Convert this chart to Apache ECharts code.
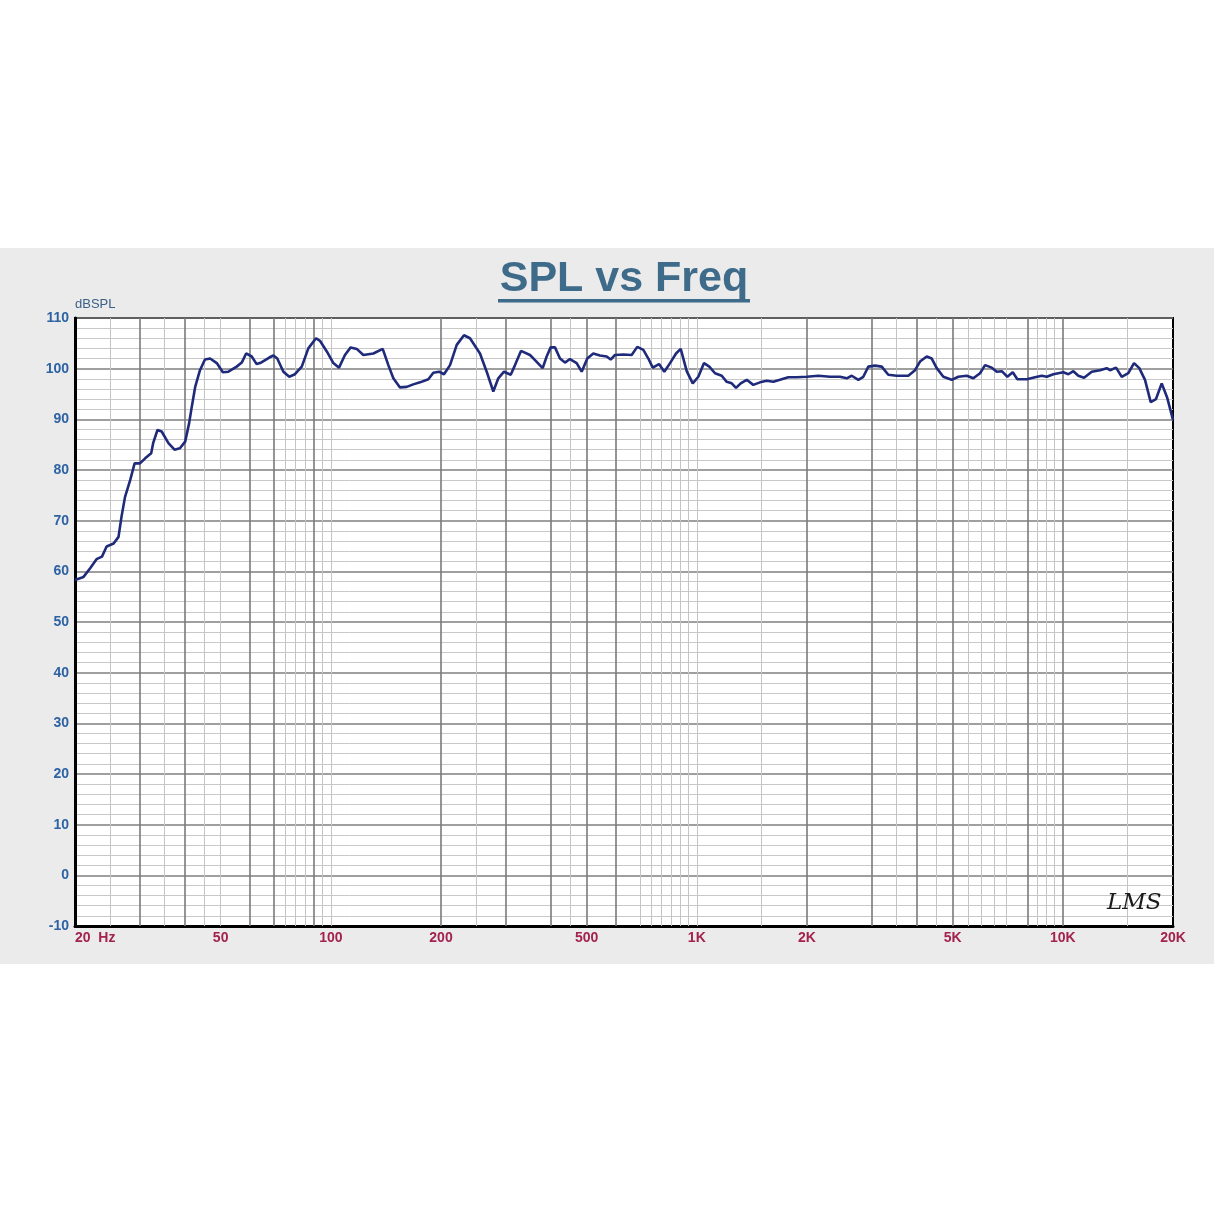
<!DOCTYPE html>
<html><head><meta charset="utf-8">
<script src="https://cdn.jsdelivr.net/npm/echarts@6/dist/echarts.min.js"></script>
<style>html,body{margin:0;padding:0;background:#fff}#c{width:1214px;height:1214px}</style>
</head><body><div id="c"></div>
<script>
const freqHz = [20,21.1,22.0,22.9,23.7,24.4,25.5,26.3,26.8,27.4,
28.3,29.1,30.1,31.1,32.3,32.7,33.6,34.5,36.0,37.4,
38.7,40.0,41.0,41.7,42.6,43.9,45.3,46.8,48.8,50.7,
52.5,55.3,57.1,58.7,60.8,62.7,64.1,67.9,69.7,71.4,
74.2,77.0,79.8,83.3,86.8,91.1,93.4,97.5,101.6,105.3,
109.3,113.3,117.7,122.7,130.7,138.6,143.6,148.2,154.5,161.2,
168.0,175.3,184.7,190.6,197.5,203.8,211.7,220.8,231.1,240.0,
255.6,266.6,277.9,286.8,297.3,310.1,318.6,330.8,350.1,361.3,
379.2,388.8,398.7,409.7,422.8,436.3,450.2,469.6,484.6,502.0,
521.3,543.7,567.2,581.6,597.5,629.5,663.7,687.5,714.3,737.1,
757.8,788.4,815.1,844.9,877.4,903.7,938.4,974.5,1009.5,1046.3,
1081.8,1121.2,1169.5,1206.9,1245.4,1279.6,1317.9,1368.6,1426.6,1488.1,
1552.1,1617.9,1687.5,1778.0,1874.4,1996.2,2147.3,2311.4,2461.6,2567.7,
2649.8,2762.1,2850.5,2941.7,3068.5,3199.9,3335.6,3516.6,3783.0,3946.1,
4072.3,4247.7,4383.6,4523.9,4715.5,4971.2,5182.1,5463.9,5695.6,5941.0,
6131.0,6394.8,6599.4,6810.3,7054.6,7298.3,7512.4,7969.9,8397.1,8758.7,
9038.6,9421.8,10033,10354,10685,11026,11429,11995,12637,13180,
13457,13975,14485,15099,15650,16179,16770,17383,17972,18629,
19297,20000];

const splDb = [58.3,58.9,60.6,62.4,62.9,64.9,65.5,66.8,70.8,74.7,
78.0,81.3,81.3,82.3,83.3,85.3,87.9,87.6,85.3,84.0,
84.3,85.6,89.2,92.5,96.4,99.7,101.8,102.0,101.1,99.3,
99.4,100.4,101.2,103.0,102.4,100.9,101.1,102.2,102.6,102.0,
99.4,98.4,98.9,100.4,104.0,106.0,105.5,103.4,101.1,100.2,
102.7,104.2,103.9,102.7,103.0,103.9,100.7,98.1,96.3,96.4,
96.9,97.3,97.9,99.2,99.4,98.9,100.7,104.7,106.6,106.0,
103.0,99.4,95.5,98.1,99.4,98.8,100.7,103.5,102.7,101.7,
100.1,102.4,104.2,104.2,102.0,101.2,101.9,101.1,99.4,102.0,
103.0,102.6,102.4,101.8,102.7,102.8,102.7,104.3,103.7,102.0,
100.2,100.9,99.4,101.1,103.0,103.9,99.5,97.1,98.4,101.1,
100.4,99.1,98.6,97.4,97.1,96.2,97.1,97.8,96.8,97.3,
97.6,97.4,97.8,98.3,98.3,98.4,98.6,98.4,98.4,98.1,
98.6,97.8,98.4,100.4,100.6,100.4,98.8,98.6,98.6,99.7,
101.4,102.4,102.0,100.1,98.4,97.8,98.4,98.6,98.1,99.1,
100.7,100.2,99.4,99.5,98.4,99.3,97.9,97.9,98.3,98.6,
98.4,98.9,99.3,98.9,99.5,98.6,98.2,99.4,99.7,100.1,
99.7,100.2,98.4,99.1,101.1,100.1,97.8,93.4,94.0,97.1,
94.2,89.9];

const xTickValues = [20,50,100,200,500,1000,2000,5000,10000,20000];
const xTickLabels = ['20  Hz','50','100','200','500','1K','2K','5K','10K','20K'];
const yMin = -10, yMax = 110, yStep = 10;
const majorGridHz = [30,40,60,70,90,200,300,400,500,600,2000,3000,4000,5000,8000,10000];
const minorGridHz = [25,35,45,50,75,80,85,95,100,250,450,700,750,800,850,900,950,1000,1500,3500,4500,5500,6000,6500,7000,8500,9000,9500,15000];

const FONT = '"Liberation Sans", Arial, sans-serif';
const chart = echarts.init(document.getElementById('c'), null, {renderer: 'canvas'});
const curve = freqHz.map((f, i) => [f, splDb[i]]);

const lineData = [];
minorGridHz.forEach(f => lineData.push({xAxis: f, lineStyle: {color: '#c4c4c4', width: 1, type: 'solid'}, label: {show: false}}));
majorGridHz.forEach(f => lineData.push({xAxis: f, lineStyle: {color: '#7a7a7a', width: 1.6, type: 'solid'}, label: {show: false}}));
xTickValues.forEach((f, i) => lineData.push({
  xAxis: f, name: xTickLabels[i],
  lineStyle: {color: 'rgba(0,0,0,0)', width: 1, type: 'solid'},
  label: {show: true, position: 'start', formatter: '{b}', color: '#a3224f', fontWeight: 'bold',
          fontSize: 14, fontFamily: FONT, distance: 5, align: i === 0 ? 'left' : 'center'}
}));

const option = {
  backgroundColor: '#ffffff',
  animation: false,
  graphic: [
    {type: 'rect', z: -10, silent: true, shape: {x: 0, y: 248, width: 1214, height: 716}, style: {fill: '#ebebeb'}},
    {type: 'text', z: 10, x: 624, y: 279, style: {text: 'SPL vs Freq', fontSize: 43, fontWeight: 'bold', fontFamily: FONT, fill: '#3e6b8a', align: 'center', verticalAlign: 'middle'}},
    {type: 'rect', z: 10, shape: {x: 498, y: 299, width: 252, height: 3.5}, style: {fill: '#3e6b8a'}},
    {type: 'text', z: 10, x: 1107, y: 903, style: {text: 'LMS', fontSize: 23, fontStyle: 'italic', fontFamily: '"DejaVu Serif", serif', fill: '#1a1a1a', align: 'left', verticalAlign: 'middle'}}
  ],
  grid: {left: 75, right: 41, top: 318, bottom: 288, show: true, backgroundColor: '#ffffff', borderColor: '#000000', borderWidth: 2},
  xAxis: {
    type: 'log', logBase: 10, min: 20, max: 20000,
    axisLine: {show: true, onZero: false, lineStyle: {color: '#000', width: 3}},
    axisTick: {show: false}, axisLabel: {show: false}, splitLine: {show: false}
  },
  yAxis: {
    type: 'value', min: yMin, max: yMax, interval: yStep,
    name: 'dBSPL', nameLocation: 'end', nameGap: 7,
    nameTextStyle: {align: 'left', color: '#3b5f86', fontSize: 13, fontFamily: FONT, verticalAlign: 'bottom'},
    axisLine: {show: true, lineStyle: {color: '#000', width: 3}},
    axisTick: {show: false},
    axisLabel: {color: '#2d62a3', fontWeight: 'bold', fontSize: 14, fontFamily: FONT, margin: 6},
    splitLine: {show: true, lineStyle: {color: '#7f7f7f', width: 1.6}},
    minorTick: {show: false, splitNumber: 5},
    minorSplitLine: {show: true, lineStyle: {color: '#c8c8c8', width: 1}}
  },
  series: [
    {
      type: 'line', z: 1, data: [[20, yMin]], showSymbol: false, lineStyle: {width: 0, opacity: 0}, silent: true,
      markLine: {silent: true, symbol: ['none', 'none'], animation: false, z: 1, data: lineData}
    },
    {
      type: 'line', z: 3, data: curve, showSymbol: false, smooth: false,
      lineStyle: {color: '#1f2a7a', width: 2.6}
    }
  ]
};
chart.setOption(option);
</script>
</body></html>
